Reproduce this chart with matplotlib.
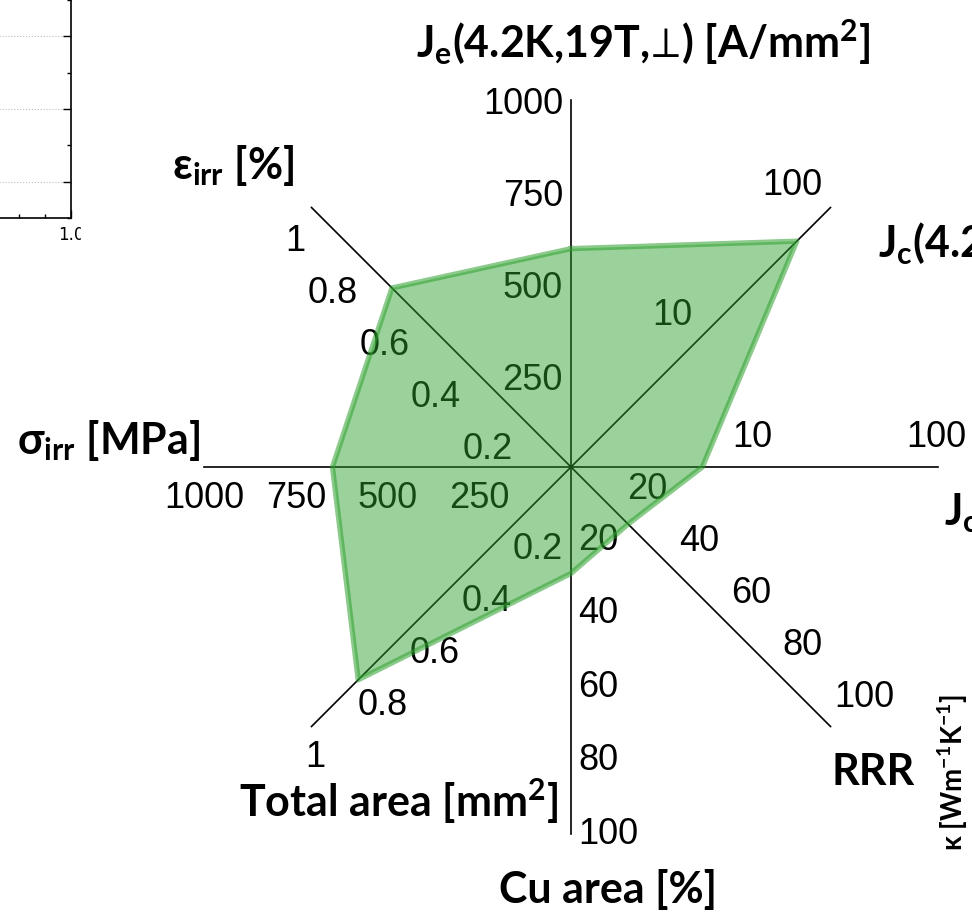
import numpy as np
import matplotlib
matplotlib.use("Agg")
import matplotlib.pyplot as plt
from matplotlib.patches import Rectangle
from matplotlib.ticker import MultipleLocator, FormatStrFormatter

# radar axes: name, angle (deg), scale type, max value, tick values, tick labels
axis_names = ["Je", "Jc_45", "Jc_0", "RRR", "Cu", "Area", "sigma", "eps"]
axis_angles = [90, 45, 0, -45, -90, -135, 180, 135]
axis_scales = ["lin", "log", "log", "lin", "lin", "lin", "lin", "lin"]
axis_max = [1000, 100, 100, 100, 100, 1.0, 1000, 1.0]

je_ticks = [250, 500, 750, 1000]
jc45_ticks = [10, 100]
jc0_ticks = [10, 100]
rrr_ticks = [20, 40, 60, 80, 100]
cu_ticks = [20, 40, 60, 80, 100]
area_ticks = [0.2, 0.4, 0.6, 0.8, 1.0]
sigma_ticks = [250, 500, 750, 1000]
eps_ticks = [0.2, 0.4, 0.6, 0.8, 1.0]

je_labels = ["250", "500", "750", "1000"]
jc45_labels = ["10", "100"]
jc0_labels = ["10", "100"]
rrr_labels = ["20", "40", "60", "80", "100"]
cu_labels = ["20", "40", "60", "80", "100"]
area_labels = ["0.2", "0.4", "0.6", "0.8", "1"]
sigma_labels = ["250", "500", "750", "1000"]
eps_labels = ["0.2", "0.4", "0.6", "0.8", "1"]

# conductor properties
values = [595, 55, 5.2, 22, 29, 0.82, 650, 0.69]

W, H = 972, 914
CX, CY, R = 571, 467, 367

plt.rcParams["mathtext.fontset"] = "custom"
plt.rcParams["mathtext.rm"] = "Lato:bold"
plt.rcParams["mathtext.bf"] = "Lato:bold"
plt.rcParams["mathtext.it"] = "Lato:bold"
plt.rcParams["mathtext.default"] = "rm"


def norm(val, scale, vmax):
    if scale == "log":
        return np.log10(val) / np.log10(vmax)
    return val / vmax


def pos(i, val):
    r = norm(val, axis_scales[i], axis_max[i])
    a = np.deg2rad(axis_angles[i])
    return r * np.cos(a), r * np.sin(a)


fig = plt.figure(figsize=(W / 100, H / 100), dpi=100)
ax = fig.add_axes([0, 0, 1, 1])
ax.set_xlim(-CX / R, (W - CX) / R)
ax.set_ylim(-(H - CY) / R, CY / R)
ax.axis("off")

# spokes
for i in range(len(axis_names)):
    x1, y1 = pos(i, axis_max[i])
    ax.plot([0, x1], [0, y1], color="black", lw=1.2, zorder=1)

tick_sets = [
    (je_ticks, je_labels, (-8, -5), "right", "center"),
    (jc45_ticks, jc45_labels, (-8, 4), "right", "bottom"),
    (jc0_ticks, jc0_labels, (-2, 12), "center", "bottom"),
    (rrr_ticks, rrr_labels, (4, 12), "left", "bottom"),
    (cu_ticks, cu_labels, (7, 0), "left", "center"),
    (area_ticks, area_labels, (-6, -13), "left", "top"),
    (sigma_ticks, sigma_labels, (0, -14), "center", "top"),
    (eps_ticks, eps_labels, (-6, -17), "right", "top"),
]
for i, (ticks, labels, off, ha, va) in enumerate(tick_sets):
    for t, lab in zip(ticks, labels):
        ax.annotate(lab, xy=pos(i, t), xytext=off, textcoords="offset pixels",
                    ha=ha, va=va, fontsize=26, family="Liberation Sans",
                    color="black", zorder=2)

# property polygon
pts = np.array([pos(i, v) for i, v in enumerate(values)])
ax.fill(pts[:, 0], pts[:, 1], facecolor="#2ca02c", alpha=0.47,
        edgecolor="none", zorder=3)
closed = np.vstack([pts, pts[:1]])
ax.plot(closed[:, 0], closed[:, 1], color="#2ca02c", alpha=0.55, lw=3.8,
        solid_joinstyle="round", zorder=4)


def ftext(x, y, s, **kw):
    kw.setdefault("family", "Lato")
    kw.setdefault("weight", "bold")
    kw.setdefault("fontsize", 31)
    fig.text(x / W, 1 - y / H, s, **kw)


ftext(643, 42, r"J$_\mathrm{e}$(4.2K,19T,$\!\perp\!$) [A/mm$^\mathrm{2}$]",
      ha="center", va="center")
ftext(233, 165, r"$\varepsilon_\mathrm{irr}$ [%]", ha="center", va="center")
ftext(108, 440, r"$\sigma_\mathrm{irr}$ [MPa]", ha="center", va="center")
ftext(398, 801, r"Total area [mm$^\mathrm{2}$]", ha="center", va="center")
ftext(608, 890, "Cu area [%]", ha="center", va="center")
ftext(873, 772, "RRR", ha="center", va="center")
ftext(878, 243, r"J$_\mathrm{c}$(4.2K,19T,$\!\parallel\!$) [A/mm$^\mathrm{2}$]",
      ha="left", va="center")
ftext(944, 510, r"J$_\mathrm{c}$(4.2K,19T,$\!\perp\!$) [A/mm$^\mathrm{2}$]",
      ha="left", va="center")
ftext(953, 772, r"$\kappa$ [Wm$^\mathrm{-1}$K$^\mathrm{-1}$]", ha="center",
      va="center", rotation=90, fontsize=20)

# neighbouring panel, only its corner is visible
ax2 = fig.add_axes([-300 / W, 1 - 218 / H, 371 / W, 318 / H])
ax2.set_xlim(1.0 - 371 / 260, 1.0)
ax2.set_ylim(-0.1, -0.1 + 318 / 363)
ax2.xaxis.set_major_locator(MultipleLocator(0.5))
ax2.xaxis.set_minor_locator(MultipleLocator(0.1))
ax2.yaxis.set_major_locator(MultipleLocator(0.2))
ax2.yaxis.set_minor_locator(MultipleLocator(0.1))
ax2.tick_params(axis="both", which="both", direction="in", width=1,
                left=False, right=True, labelleft=False, labelright=False,
                top=False, labelsize=12, pad=6)
ax2.tick_params(which="major", length=6)
ax2.tick_params(which="minor", length=3)
ax2.xaxis.set_major_formatter(FormatStrFormatter("%.1f"))
ax2.grid(axis="y", which="major", linestyle=":", color="#bbbbbb", lw=0.8)
for sp in ax2.spines.values():
    sp.set_linewidth(1.2)
fig.add_artist(Rectangle((81 / W, 1 - 262 / H), 50 / W, 38 / H,
                         transform=fig.transFigure, color="white", zorder=10))

fig.savefig("out.png", dpi=100)
